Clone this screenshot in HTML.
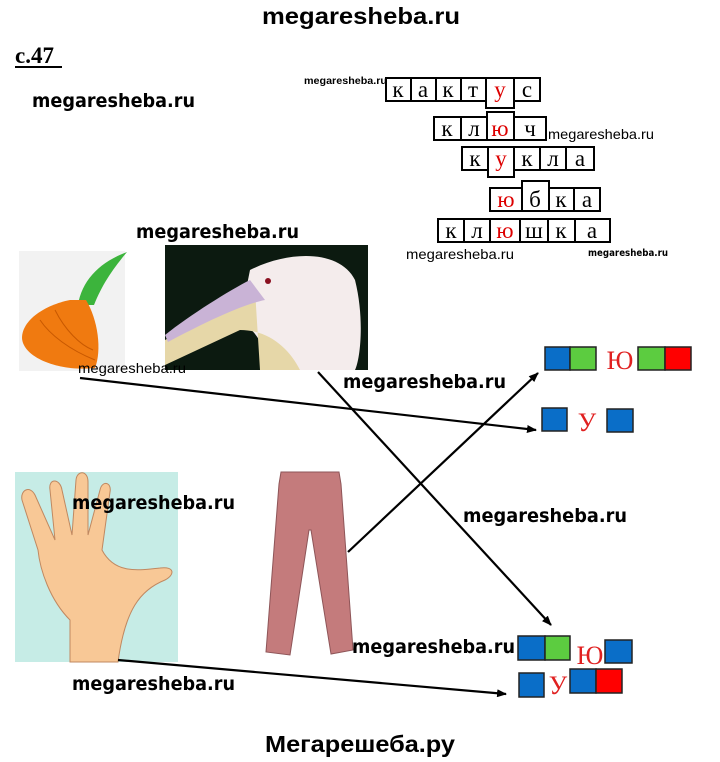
<!DOCTYPE html>
<html><head><meta charset="utf-8"><style>
html,body{margin:0;padding:0;background:#fff;width:720px;height:762px;overflow:hidden}
svg{display:block}
.wm{font-family:"DejaVu Sans","Liberation Sans",sans-serif;font-weight:bold;fill:#000}
.wt{font-family:"Liberation Sans",sans-serif;fill:#000}
.lt{font-family:"Liberation Serif","DejaVu Serif",serif;font-size:23px;text-anchor:middle}
</style></head><body>
<svg width="720" height="762" viewBox="0 0 720 762" xmlns="http://www.w3.org/2000/svg">
<defs><marker id="ah" markerWidth="10" markerHeight="8" refX="9" refY="4" orient="auto" markerUnits="userSpaceOnUse"><path d="M0,0 L10,4 L0,8 Z" fill="#000"/></marker></defs>
<text x="262" y="24" class="wt" font-size="23" font-weight="bold" textLength="198" lengthAdjust="spacingAndGlyphs">megaresheba.ru</text>
<text x="15" y="63" font-family="Liberation Serif,serif" font-size="23" font-weight="bold">с.47</text>
<rect x="15" y="66" width="47" height="2" fill="#000"/>
<text x="32" y="107" class="wm" font-size="19" textLength="163" lengthAdjust="spacingAndGlyphs">megaresheba.ru</text>
<text x="304" y="84" class="wt" font-size="10" font-weight="bold" textLength="83" lengthAdjust="spacingAndGlyphs">megaresheba.ru</text>

<g stroke="#000" stroke-width="2" fill="#fff">
<rect x="386" y="78" width="25" height="23"/><rect x="411" y="78" width="25" height="23"/><rect x="436" y="78" width="25" height="23"/><rect x="461" y="78" width="25" height="23"/><rect x="486" y="78" width="28" height="30"/><rect x="514" y="78" width="26" height="23"/>
<rect x="434" y="117" width="27" height="23"/><rect x="461" y="117" width="26" height="23"/><rect x="487" y="112" width="27" height="28"/><rect x="514" y="117" width="32" height="23"/>
<rect x="462" y="147" width="26" height="23"/><rect x="488" y="147" width="26" height="30"/><rect x="514" y="147" width="26" height="23"/><rect x="540" y="147" width="26" height="23"/><rect x="566" y="147" width="28" height="23"/>
<rect x="490" y="188" width="32" height="23"/><rect x="522" y="181" width="27" height="30"/><rect x="549" y="188" width="25" height="23"/><rect x="574" y="188" width="26" height="23"/>
<rect x="438" y="219" width="26" height="23"/><rect x="464" y="219" width="26" height="23"/><rect x="490" y="219" width="30" height="23"/><rect x="520" y="219" width="28" height="23"/><rect x="548" y="219" width="27" height="23"/><rect x="575" y="219" width="35" height="23"/>
</g>
<g class="lt">
<text x="398" y="97">к</text><text x="423" y="97">а</text><text x="448" y="97">к</text><text x="473" y="97">т</text><text x="500" y="97" fill="#d00">у</text><text x="527" y="97">с</text>
<text x="447" y="136">к</text><text x="474" y="136">л</text><text x="500" y="136" fill="#d00">ю</text><text x="530" y="136">ч</text>
<text x="475" y="166">к</text><text x="501" y="166" fill="#d00">у</text><text x="527" y="166">к</text><text x="553" y="166">л</text><text x="580" y="166">а</text>
<text x="506" y="207" fill="#d00">ю</text><text x="535" y="207">б</text><text x="561" y="207">к</text><text x="587" y="207">а</text>
<text x="451" y="238">к</text><text x="477" y="238">л</text><text x="505" y="238" fill="#d00">ю</text><text x="534" y="238">ш</text><text x="561" y="238">к</text><text x="592" y="238">а</text>
</g>
<text x="548" y="139" class="wt" font-size="14" textLength="106" lengthAdjust="spacingAndGlyphs">megaresheba.ru</text>
<text x="406" y="259" class="wt" font-size="14" textLength="108" lengthAdjust="spacingAndGlyphs">megaresheba.ru</text>
<text x="588" y="256" class="wm" font-size="10" textLength="80" lengthAdjust="spacingAndGlyphs">megaresheba.ru</text>
<text x="136" y="238" class="wm" font-size="19" textLength="163" lengthAdjust="spacingAndGlyphs">megaresheba.ru</text>

<!-- onion -->
<rect x="19" y="251" width="106" height="120" fill="#f2f2f2"/>
<path d="M78,305 C82,280 100,262 127,252 C112,270 102,285 94,305 Z" fill="#3cb43c"/>
<path d="M70,300 C45,305 22,320 22,338 C23,358 60,372 95,368 C102,350 98,320 86,300 Z" fill="#f07a10"/>
<path d="M40,320 C50,335 70,350 95,360 M55,310 C65,330 80,345 93,350" stroke="#c85800" fill="none"/>
<!-- pelican -->
<rect x="165" y="245" width="203" height="125" fill="#0c1a10"/>
<path d="M250,270 C290,250 340,250 355,280 C365,320 360,360 355,370 L270,370 C265,345 255,330 240,320 Z" fill="#f4ecec"/>
<path d="M255,290 L165,340 L165,365 L240,330 C270,330 290,350 300,370 L260,370 Z" fill="#e6d7a8"/>
<path d="M250,280 C230,290 190,315 165,335 L168,342 C200,325 240,305 265,300 Z" fill="#c9b3d6"/>
<circle cx="268" cy="281" r="3" fill="#8a1020"/>
<text x="78" y="373" class="wt" font-size="14" textLength="108" lengthAdjust="spacingAndGlyphs">megaresheba.ru</text>
<text x="343" y="388" class="wm" font-size="19" textLength="163" lengthAdjust="spacingAndGlyphs">megaresheba.ru</text>

<g stroke="#222" stroke-width="1.5">
<rect x="545" y="347" width="25" height="23" fill="#0a6ec8"/><rect x="570" y="347" width="26" height="23" fill="#5ccc40"/>
<rect x="638" y="347" width="27" height="23" fill="#5ccc40"/><rect x="665" y="347" width="26" height="23" fill="#f00"/>
<rect x="542" y="408" width="25" height="23" fill="#0a6ec8"/><rect x="607" y="409" width="26" height="23" fill="#0a6ec8"/>
<rect x="518" y="636" width="27" height="24" fill="#0a6ec8"/><rect x="545" y="636" width="25" height="24" fill="#5ccc40"/>
<rect x="605" y="640" width="27" height="23" fill="#0a6ec8"/>
<rect x="519" y="673" width="25" height="24" fill="#0a6ec8"/><rect x="570" y="669" width="26" height="24" fill="#0a6ec8"/><rect x="596" y="669" width="26" height="24" fill="#f00"/>
</g>
<g font-family="Liberation Serif,serif" fill="#e02020" font-size="26" text-anchor="middle">
<text x="620" y="369">Ю</text><text x="587" y="431">У</text><text x="590" y="664">Ю</text><text x="558" y="694">У</text>
</g>

<!-- hand -->
<rect x="15" y="472" width="163" height="190" fill="#c6ece6"/>
<path d="M70,662 L70,620 C50,600 40,570 38,550 L22,500 C20,490 30,485 35,495 L55,540 L50,490 C48,478 60,478 62,490 L72,535 L76,480 C77,470 88,470 88,482 L88,535 L100,490 C102,480 112,482 110,492 L102,550 C115,575 140,570 160,568 C175,566 175,575 165,580 C140,590 125,610 118,662 Z" fill="#f8c896" stroke="#c08860"/>
<text x="72" y="509" class="wm" font-size="19" textLength="163" lengthAdjust="spacingAndGlyphs">megaresheba.ru</text>
<text x="72" y="690" class="wm" font-size="19" textLength="163" lengthAdjust="spacingAndGlyphs">megaresheba.ru</text>

<!-- pants -->
<path d="M281,472 L339,472 L341,484 L353,650 L331,654 L311,530 L309,530 L290,655 L266,652 L279,484 Z" fill="#c47b7c" stroke="#8e5558"/>
<text x="463" y="522" class="wm" font-size="19" textLength="164" lengthAdjust="spacingAndGlyphs">megaresheba.ru</text>
<text x="352" y="653" class="wm" font-size="19" textLength="163" lengthAdjust="spacingAndGlyphs">megaresheba.ru</text>

<g stroke="#000" stroke-width="2.2" fill="none" marker-end="url(#ah)">
<line x1="80" y1="378" x2="536" y2="430"/>
<line x1="318" y1="372" x2="551" y2="625"/>
<line x1="348" y1="552" x2="538" y2="373"/>
<line x1="118" y1="660" x2="506" y2="694"/>
</g>

<text x="265" y="752" class="wt" font-size="23" font-weight="bold" textLength="190" lengthAdjust="spacingAndGlyphs">Мегарешеба.ру</text>
</svg>
</body></html>
